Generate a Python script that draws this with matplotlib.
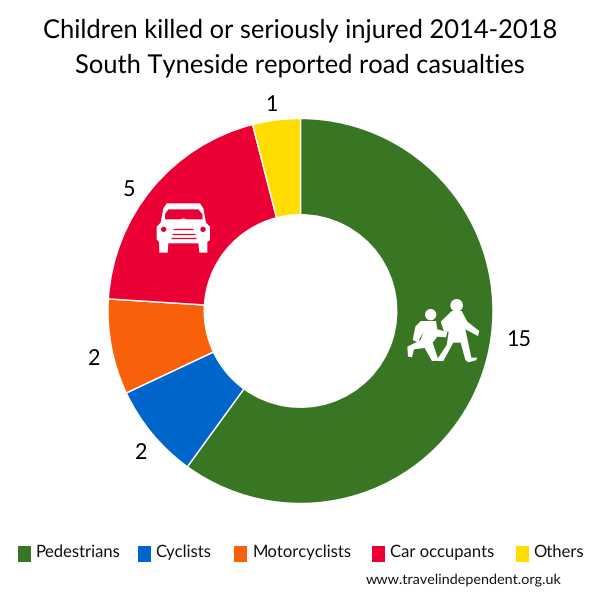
import matplotlib
matplotlib.use("Agg")
import matplotlib.pyplot as plt
from matplotlib.patches import Polygon, Circle, Rectangle

categories = ["Pedestrians", "Cyclists", "Motorcyclists", "Car occupants", "Others"]
values = [15, 2, 2, 5, 1]
colors = ["#387623", "#0066CC", "#F8600A", "#EB0036", "#FFDD00"]
title_lines = ["Children killed or seriously injured 2014-2018",
               "South Tyneside reported road casualties"]
source = "www.travelindependent.org.uk"

plt.rcParams["font.family"] = ["Lato", "DejaVu Sans"]
plt.rcParams["text.hinting"] = "no_hinting"
H = 600
fig = plt.figure(figsize=(6, 6), dpi=100, facecolor="white")
ax = fig.add_axes([0, 0, 1, 1])

CX, CY, R = 300.5, H - 311, 192.5
ax.pie(values, colors=colors, startangle=90, counterclock=False, center=(CX, CY), radius=R,
       wedgeprops=dict(width=R * 0.5, edgecolor="white", linewidth=1.0))
ax.set_xlim(0, 600)
ax.set_ylim(0, 600)
ax.set_aspect("equal")
ax.axis("off")

def Y(y):
    return H - y

for line, y in zip(title_lines, [30, 65]):
    ax.text(300, Y(y), line, ha="center", va="center", fontsize=18.4, color="black")

label_pos = [(519, 340), (141, 453), (94, 359), (129, 190), (271, 105)]
for v, (x, y) in zip(values, label_pos):
    ax.text(x, Y(y), str(v), ha="center", va="center", fontsize=15.5, color="black")

swatch_x = [18, 138, 234, 372, 516]
text_x = [35.5, 155, 252, 389.5, 533]
for name, c, sx, tx in zip(categories, colors, swatch_x, text_x):
    ax.add_patch(Rectangle((sx, Y(562)), 13, 16, facecolor=c, edgecolor="none"))
    ax.text(tx, Y(552.5), name, ha="left", va="center", fontsize=12, color="#111111")
ax.text(366, Y(580), source, ha="left", va="center", fontsize=10.4, color="#111111")

def crop(ox, oy, pts):
    return [(ox + x / 3, Y(oy + y / 3)) for x, y in pts]

def poly(ox, oy, pts, fc, z=5):
    ax.add_patch(Polygon(crop(ox, oy, pts), closed=True, facecolor=fc, edgecolor="none", zorder=z))

def circ(ox, oy, x, y, r, fc, z=5):
    ax.add_patch(Circle((ox + x / 3, Y(oy + y / 3)), r / 3, facecolor=fc, edgecolor="none", zorder=z))

# car icon
ox, oy = 130, 180
poly(ox, oy, [(110, 70), (210, 70), (220, 85), (228, 128), (240, 140), (240, 180), (232, 186), (232, 218),
              (208, 218), (205, 190), (115, 190), (113, 218), (88, 218), (87, 186), (80, 178), (80, 140),
              (92, 128), (100, 85)], "white")
poly(ox, oy, [(105, 102), (115, 88), (205, 88), (217, 102), (218, 118), (170, 118),
              (160, 115), (150, 118), (105, 118)], colors[3], 6)
for px in (101, 219):
    circ(ox, oy, px, 148, 8, colors[3], 6)
for y, a, b in [(148, 130, 190), (162, 125, 195), (174, 122, 198)]:
    ax.plot([ox + a / 3, ox + b / 3], [Y(oy + y / 3)] * 2, color=colors[3], lw=0.9,
            solid_capstyle="butt", zorder=6)

# children icon
ox, oy = 390, 280
circ(ox, oy, 200, 76, 19, "white")
poly(ox, oy, [(185, 93), (215, 93), (232, 125), (268, 153), (264, 168), (226, 148), (234, 185), (244, 233),
              (262, 233), (258, 241), (235, 247), (226, 240), (212, 188), (190, 188), (160, 243), (138, 243),
              (170, 195), (176, 155), (162, 155), (152, 125)], "white")
circ(ox, oy, 122, 104, 17, "white")
poly(ox, oy, [(92, 123), (138, 123), (142, 148), (172, 156), (168, 172), (142, 170), (128, 188), (146, 242),
              (126, 243), (104, 204), (72, 208), (66, 232), (54, 230), (52, 200), (92, 180), (100, 155),
              (84, 187), (68, 180), (76, 140)], "white")

fig.savefig("out.png", dpi=100, facecolor="white")
